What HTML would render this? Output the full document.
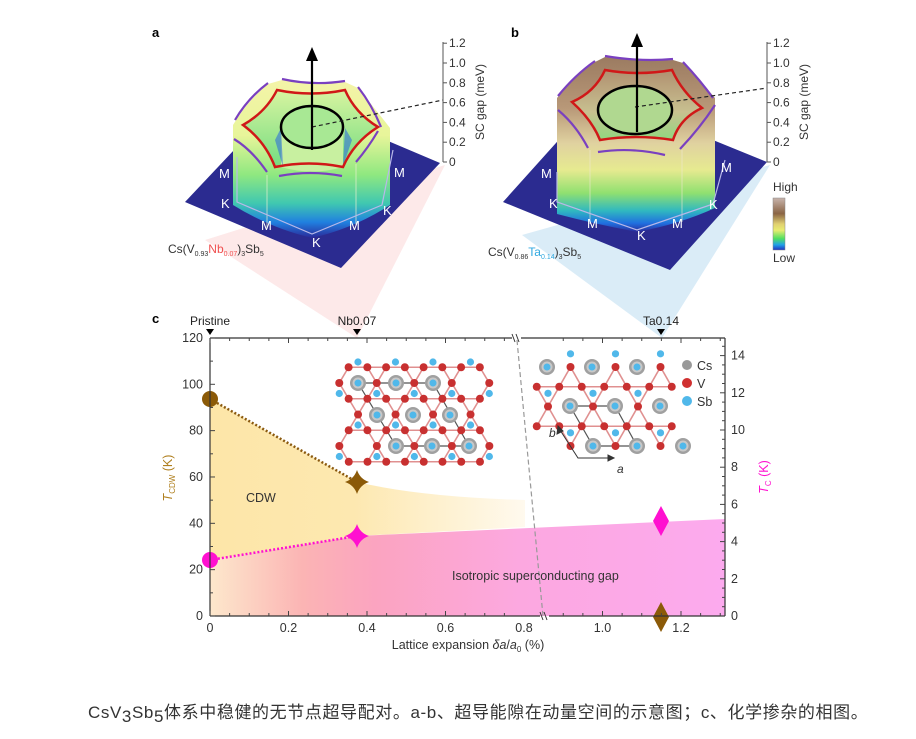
<!DOCTYPE html>
<html><head><meta charset="utf-8"><style>
html,body{margin:0;padding:0;background:#fff;}
svg{display:block;font-family:"Liberation Sans",Arial,sans-serif;}
.cap{position:absolute;left:88px;top:698px;font-family:"Liberation Sans","Noto Sans CJK SC",sans-serif;font-size:17px;color:#333;white-space:nowrap;letter-spacing:0.6px}
</style></head><body>
<div style="position:relative;width:916px;height:739px;overflow:hidden">
<svg id="s" width="916" height="739" viewBox="0 0 916 739">
<defs>
<linearGradient id="ga" x1="0" y1="80" x2="0" y2="238" gradientUnits="userSpaceOnUse">
<stop offset="0" stop-color="#f4f4a8"/><stop offset="0.35" stop-color="#e8f59a"/><stop offset="0.6" stop-color="#8fe880"/><stop offset="0.78" stop-color="#40c8b0"/><stop offset="0.9" stop-color="#2080e0"/><stop offset="1" stop-color="#2a2a9a"/></linearGradient>
<linearGradient id="gb" x1="0" y1="55" x2="0" y2="232" gradientUnits="userSpaceOnUse">
<stop offset="0" stop-color="#9a7a60"/><stop offset="0.3" stop-color="#b89878"/><stop offset="0.5" stop-color="#e0d2a0"/><stop offset="0.65" stop-color="#e6ea90"/><stop offset="0.78" stop-color="#90e070"/><stop offset="0.88" stop-color="#30b8c0"/><stop offset="0.95" stop-color="#2070e0"/><stop offset="1" stop-color="#2a2a9a"/></linearGradient>
<linearGradient id="gia" x1="0" y1="90" x2="0" y2="170" gradientUnits="userSpaceOnUse"><stop offset="0" stop-color="#d8f4a0"/><stop offset="1" stop-color="#70dc80"/></linearGradient>
<linearGradient id="gib" x1="0" y1="70" x2="0" y2="140" gradientUnits="userSpaceOnUse"><stop offset="0" stop-color="#b09070"/><stop offset="0.6" stop-color="#c8c090"/><stop offset="1" stop-color="#90d880"/></linearGradient>
<linearGradient id="gcb" x1="0" y1="0" x2="0" y2="1"><stop offset="0" stop-color="#c8b4ac"/><stop offset="0.3" stop-color="#8a6444"/><stop offset="0.5" stop-color="#e0d070"/><stop offset="0.62" stop-color="#e8ec70"/><stop offset="0.78" stop-color="#50e060"/><stop offset="0.9" stop-color="#20a0e8"/><stop offset="1" stop-color="#2030c0"/></linearGradient>
<linearGradient id="gorange" x1="210" y1="0" x2="530" y2="0" gradientUnits="userSpaceOnUse"><stop offset="0" stop-color="#fde6a8"/><stop offset="0.45" stop-color="#fde8b0"/><stop offset="1" stop-color="#fffaf0"/></linearGradient>
<linearGradient id="gpink" x1="210" y1="0" x2="725" y2="0" gradientUnits="userSpaceOnUse"><stop offset="0" stop-color="#fde8cc"/><stop offset="0.18" stop-color="#fbb4b4"/><stop offset="0.32" stop-color="#fba4c0"/><stop offset="0.6" stop-color="#fca8e0"/><stop offset="1" stop-color="#fcaaee"/></linearGradient>
</defs>

<polygon points="205,240 445,165 357,338" fill="#fde4e4" opacity="0.8"/>
<polygon points="522,235 770,165 662,338" fill="#d6eaf6" opacity="0.9"/>

<text x="152" y="37" font-size="13" font-weight="bold">a</text>
<polygon points="185,202 284,97 440,163 341,268" fill="#2b2b90"/>
<path d="M233,125 Q248,100 268,84 L282,80 Q313,86 345,82 L358,88 Q372,105 390,128 L390,205 Q355,228 312,238 Q270,228 233,205 Z" fill="url(#ga)"/>
<path d="M243,125 Q266,112 277,90 Q311,97 345,90 Q355,113 378,127 Q354,142 343,167 Q309,160 275,167 Q265,141 243,125 Z" fill="url(#gia)"/>
<path d="M281,127 L281,167 Q312,176 343,167 L343,127 Z" fill="#c8f0a0"/>
<path d="M275,140 L283,167 L281,128Z M345,128 L343,166 L352,140Z" fill="#3070d8" opacity="0.6"/>
<path d="M243,125 Q266,112 277,90 Q311,97 345,90 Q355,113 378,127 Q354,142 343,167 Q309,160 275,167 Q265,141 243,125 Z" fill="none" stroke="#d01818" stroke-width="2.5"/>
<ellipse cx="312" cy="127" rx="31" ry="21" fill="#a8e894" stroke="#000" stroke-width="2.5"/>
<g fill="none" stroke="#7a40c0" stroke-width="2.2">
<path d="M235,120 Q248,98 268,83"/><path d="M282,79 Q313,86 345,81"/><path d="M358,87 Q372,105 381,127"/>
<path d="M234,139 Q252,150 267,172"/><path d="M279,176 Q311,170 342,176"/><path d="M356,162 Q368,148 378,131"/>
</g>
<g stroke="#e8f0d0" stroke-width="1" opacity="0.7"><line x1="267" y1="175" x2="267" y2="229"/><line x1="356" y1="164" x2="356" y2="226"/></g>
<g fill="none" stroke="#b8b8e8" stroke-width="1.2"><polyline points="237,157 237,202 312,234 382,205 393,150"/></g>
<line x1="312" y1="127" x2="443" y2="100" stroke="#222" stroke-width="1.2" stroke-dasharray="4,3"/>
<line x1="312" y1="150" x2="312" y2="58" stroke="#000" stroke-width="2.2"/>
<polygon points="312,47 306,61 318,61" fill="#000"/>
<g fill="#fff" font-size="13"><text x="219" y="178">M</text><text x="221" y="208">K</text><text x="261" y="230">M</text><text x="312" y="247">K</text><text x="349" y="230">M</text><text x="383" y="215">K</text><text x="394" y="177">M</text></g>
<text x="168" y="253" font-size="12" fill="#333">Cs(V<tspan font-size="7" dy="3">0.93</tspan><tspan fill="#f05050" dy="-3">Nb</tspan><tspan font-size="7" dy="3" fill="#f05050">0.07</tspan><tspan dy="-3">)</tspan><tspan font-size="7" dy="3">3</tspan><tspan dy="-3">Sb</tspan><tspan font-size="7" dy="3">5</tspan></text>
<g stroke="#555" stroke-width="1"><line x1="443" y1="42" x2="443" y2="162"/></g>
<g font-size="12" fill="#333" id="axat"></g>
<text transform="translate(484,102) rotate(-90)" font-size="12" fill="#333" text-anchor="middle">SC gap (meV)</text>

<text x="511" y="37" font-size="13" font-weight="bold">b</text>
<polygon points="503,202 600,94 767,162 670,270" fill="#2b2b90"/>
<path d="M557,98 Q575,75 595,62 L605,57 Q640,62 673,60 L683,63 Q700,80 715,98 L715,208 Q680,224 637,232 Q595,224 557,214 Z" fill="url(#gb)"/>
<path d="M572,102 Q595,92 605,70 Q638,76 672,70 Q682,92 702,108 Q680,118 673,140 Q636,134 600,140 Q592,120 572,102 Z" fill="url(#gib)"/>
<path d="M572,102 Q595,92 605,70 Q638,76 672,70 Q682,92 702,108 Q680,118 673,140 Q636,134 600,140 Q592,120 572,102 Z" fill="none" stroke="#d01818" stroke-width="2.5"/>
<ellipse cx="635" cy="110" rx="37" ry="24" fill="#b0d890" stroke="#000" stroke-width="2.5"/>
<g fill="none" stroke="#7a40c0" stroke-width="2.2">
<path d="M558,96 Q575,75 595,61"/><path d="M605,56 Q640,62 673,59"/><path d="M683,62 Q700,80 713,98"/>
<path d="M558,110 Q576,125 588,148"/><path d="M598,152 Q632,147 665,155"/><path d="M680,149 Q700,128 715,105"/>
</g>
<g stroke="#f0e8d0" stroke-width="1" opacity="0.6"><line x1="590" y1="150" x2="590" y2="224"/><line x1="682" y1="150" x2="682" y2="222"/></g>
<g fill="none" stroke="#b8b8e8" stroke-width="1.2"><polyline points="557,172 557,202 637,230 713,204 725,160"/></g>
<line x1="635" y1="107" x2="767" y2="88" stroke="#222" stroke-width="1.2" stroke-dasharray="4,3"/>
<line x1="637" y1="132" x2="637" y2="44" stroke="#000" stroke-width="2.2"/>
<polygon points="637,33 631,47 643,47" fill="#000"/>
<g fill="#fff" font-size="13"><text x="541" y="178">M</text><text x="549" y="208">K</text><text x="587" y="228">M</text><text x="637" y="240">K</text><text x="672" y="228">M</text><text x="709" y="209">K</text><text x="721" y="172">M</text></g>
<text x="488" y="256" font-size="12" fill="#333">Cs(V<tspan font-size="7" dy="3">0.86</tspan><tspan fill="#30a8e0" dy="-3">Ta</tspan><tspan font-size="7" dy="3" fill="#30a8e0">0.14</tspan><tspan dy="-3">)</tspan><tspan font-size="7" dy="3">3</tspan><tspan dy="-3">Sb</tspan><tspan font-size="7" dy="3">5</tspan></text>
<g stroke="#555" stroke-width="1"><line x1="767" y1="42" x2="767" y2="162"/></g>
<g font-size="12" fill="#333" id="axbt"></g>
<text transform="translate(808,102) rotate(-90)" font-size="12" fill="#333" text-anchor="middle">SC gap (meV)</text>
<rect x="773" y="198" width="12" height="52" fill="url(#gcb)" stroke="#888" stroke-width="0.5"/>
<text x="773" y="191" font-size="12" fill="#333">High</text>
<text x="773" y="262" font-size="12" fill="#333">Low</text>

<text x="152" y="323" font-size="13" font-weight="bold">c</text>
<path d="M210,399 L357,482 Q420,497 525,500 L525,527 L357,536 L210,560 Z" fill="url(#gorange)"/>
<path d="M210,560 L357,536 L725,519 L725,616 L210,616 Z" fill="url(#gpink)"/>
<line x1="210" y1="399" x2="357" y2="482" stroke="#8b5a10" stroke-width="2.5" stroke-dasharray="2,2"/>
<line x1="210" y1="560" x2="357" y2="536" stroke="#ff10d0" stroke-width="2.5" stroke-dasharray="2,2"/>
<circle cx="210" cy="399" r="8" fill="#8b5a08"/>
<circle cx="210" cy="560" r="8" fill="#ff10d0"/>
<path d="M357,470 Q360,479 369,482 Q360,485 357,494 Q354,485 345,482 Q354,479 357,470Z" fill="#8b5a08"/>
<path d="M357,524 Q360,533 369,536 Q360,539 357,548 Q354,539 345,536 Q354,533 357,524Z" fill="#ff10d0"/>
<polygon points="661,506 669,521 661,536 653,521" fill="#ff10d0"/>
<polygon points="661,602 669,617 661,632 653,617" fill="#8b5a08"/>
<path d="M517,340 Q530,480 543,616" fill="none" stroke="#999" stroke-width="1.2" stroke-dasharray="5,3"/>
<g stroke="#333" stroke-width="1.2">
<line x1="210" y1="338" x2="512" y2="338"/><line x1="521" y1="338" x2="725" y2="338"/>
<line x1="210" y1="616" x2="540" y2="616"/><line x1="549" y1="616" x2="725" y2="616"/>
<line x1="210" y1="338" x2="210" y2="616"/><line x1="725" y1="338" x2="725" y2="616"/>
</g>
<g stroke="#333" stroke-width="1"><line x1="512" y1="334" x2="515" y2="342"/><line x1="516" y1="334" x2="519" y2="342"/><line x1="540" y1="612" x2="543" y2="620"/><line x1="544" y1="612" x2="547" y2="620"/></g>
<g id="ticks" stroke="#444" stroke-width="1"></g>
<g id="tlab" font-size="12.5" fill="#333"></g>
<text x="210" y="325" font-size="12" fill="#222" text-anchor="middle">Pristine</text>
<text x="357" y="325" font-size="12" fill="#222" text-anchor="middle">Nb0.07</text>
<text x="661" y="325" font-size="12" fill="#222" text-anchor="middle">Ta0.14</text>
<polygon points="206,329 214,329 210,335" fill="#000"/><polygon points="353,329 361,329 357,335" fill="#000"/><polygon points="657,329 665,329 661,335" fill="#000"/>
<text x="468" y="649" font-size="12.5" fill="#333" text-anchor="middle">Lattice expansion <tspan font-style="italic">δa</tspan>/<tspan font-style="italic">a</tspan><tspan font-size="8" dy="3">0</tspan><tspan dy="-3"> (%)</tspan></text>
<text transform="translate(172,478) rotate(-90)" font-size="12.5" fill="#b08020" text-anchor="middle"><tspan font-style="italic">T</tspan><tspan font-size="8" dy="3">CDW</tspan><tspan dy="-3"> (K)</tspan></text>
<text transform="translate(768,477) rotate(-90)" font-size="12.5" fill="#ff10d0" text-anchor="middle"><tspan font-style="italic">T</tspan><tspan font-size="8" dy="3">C</tspan><tspan dy="-3"> (K)</tspan></text>
<text x="246" y="502" font-size="12.5" fill="#333">CDW</text>
<text x="452" y="580" font-size="12.5" fill="#333">Isotropic superconducting gap</text>
<g id="atoms"></g>
<circle cx="687" cy="365" r="5" fill="#999"/><circle cx="687" cy="383" r="5" fill="#d03030"/><circle cx="687" cy="401" r="5" fill="#50b8ea"/>
<text x="697" y="370" font-size="12.5" fill="#333">Cs</text><text x="697" y="388" font-size="12.5" fill="#333">V</text><text x="697" y="406" font-size="12.5" fill="#333">Sb</text>
<g stroke="#333" stroke-width="1" fill="#333"><polyline points="560,430 578,458 610,458" fill="none"/><polygon points="558,426 557,434 563,431"/><polygon points="614,458 608,455 608,461"/></g>
<text x="549" y="437" font-size="12" font-style="italic" fill="#333">b</text>
<text x="617" y="473" font-size="12" font-style="italic" fill="#333">a</text>
</svg>
<div class="cap">CsV<span style="position:relative;top:4px">3</span>Sb<span style="position:relative;top:4px">5</span>体系中稳健的无节点超导配对。a-b、超导能隙在动量空间的示意图；c、化学掺杂的相图。</div>
</div>
<script>
var NS="http://www.w3.org/2000/svg";
function el(p,t,a){var e=document.createElementNS(NS,t);for(var k in a)e.setAttribute(k,a[k]);p.appendChild(e);return e;}
function G(id){return document.getElementById(id);}
[["axat",443],["axbt",767]].forEach(function(q){
 var g=G(q[0]);var labs=["0","0.2","0.4","0.6","0.8","1.0","1.2"];
 for(var i=0;i<7;i++){var y=162-i*19.8;el(g,"line",{x1:q[1],y1:y,x2:q[1]+4,y2:y,stroke:"#555"});var t=el(g,"text",{x:q[1]+6,y:y+4});t.textContent=labs[i];}
});
var tk=G("ticks"),tl=G("tlab");
for(var v=0;v<=1.32;v+=0.05){var x=210+v*392.5;if(x>725)break;if(x>508&&x<552)continue;var big=Math.abs(v*5-Math.round(v*5))<1e-6;
 el(tk,"line",{x1:x,y1:616,x2:x,y2:616-(big?5:3)});el(tk,"line",{x1:x,y1:338,x2:x,y2:338+(big?5:3)});}
[0,0.2,0.4,0.6,0.8,1.0,1.2].forEach(function(v,i){var x=210+v*392.5;var t=el(tl,"text",{x:x,y:632,"text-anchor":"middle"});t.textContent=["0","0.2","0.4","0.6","0.8","1.0","1.2"][i];});
for(var k=0;k<=120;k+=10){var y=616-k*2.317;el(tk,"line",{x1:210,y1:y,x2:210+(k%20?3:5),y2:y});if(k%20==0){var t=el(tl,"text",{x:203,y:y+4,"text-anchor":"end"});t.textContent=k;}}
for(var k=0;k<=14.5;k+=0.5){var y=616-k*18.6;if(y<338)break;var m=(k%2==0);el(tk,"line",{x1:725,y1:y,x2:725-(m?5:3),y2:y});if(m){var t=el(tl,"text",{x:731,y:y+4});t.textContent=k;}}
function lattice(O,a,b,box,cs){
 var g=G("atoms");var V=[],S=[];
 for(var i=-6;i<=6;i++)for(var j=-6;j<=6;j++){
  var P=[O[0]+i*a[0]+j*b[0],O[1]+i*a[1]+j*b[1]];
  [[a[0]/2,a[1]/2],[b[0]/2,b[1]/2],[(a[0]+b[0])/2,(a[1]+b[1])/2]].forEach(function(d){var q=[P[0]+d[0],P[1]+d[1]];if(q[0]>box[0]&&q[0]<box[2]&&q[1]>box[1]&&q[1]<box[3])V.push(q);});
  var c=[P[0]+(a[0]+b[0])/3,P[1]+(a[1]+b[1])/3];if(c[0]>box[0]&&c[0]<box[2]&&c[1]>box[1]&&c[1]<box[3])S.push(c);
 }
 var L=Math.hypot(a[0],a[1])/2;
 for(var m=0;m<V.length;m++)for(var n=m+1;n<V.length;n++){var d=Math.hypot(V[m][0]-V[n][0],V[m][1]-V[n][1]);if(Math.abs(d-L)<1.5)el(g,"line",{x1:V[m][0],y1:V[m][1],x2:V[n][0],y2:V[n][1],stroke:"#e09090","stroke-width":1.6});}
 cs.forEach(function(p){el(g,"circle",{cx:p[0],cy:p[1],r:8,fill:"#a0a0a0"});el(g,"circle",{cx:p[0],cy:p[1],r:5.5,fill:"#c8c8c8"});el(g,"circle",{cx:p[0],cy:p[1],r:3.5,fill:"#50b8ea"});});
 S.forEach(function(p){el(g,"circle",{cx:p[0],cy:p[1],r:3.6,fill:"#50b8ea"});});
 V.forEach(function(p){el(g,"circle",{cx:p[0],cy:p[1],r:4,fill:"#c83030"});});
}
var g=G("atoms");
el(g,"polygon",{points:"358,383 433,383 469,446 396,446",fill:"none",stroke:"#555","stroke-width":1.2});
lattice([358,383],[37.5,0],[18.8,31.5],[330,352,495,470],[[358,383],[396,383],[433,383],[377,415],[413,415],[450,415],[396,446],[432,446],[469,446]]);
el(g,"polygon",{points:"570,406 615,406 637,446 593,446",fill:"none",stroke:"#555","stroke-width":1.2});
lattice([593,446],[45,0],[22.5,-39.5],[530,352,672,455],[[547,367],[592,367],[637,367],[570,406],[615,406],[660,406],[593,446],[637,446],[683,446]]);
</script>
</body></html>
